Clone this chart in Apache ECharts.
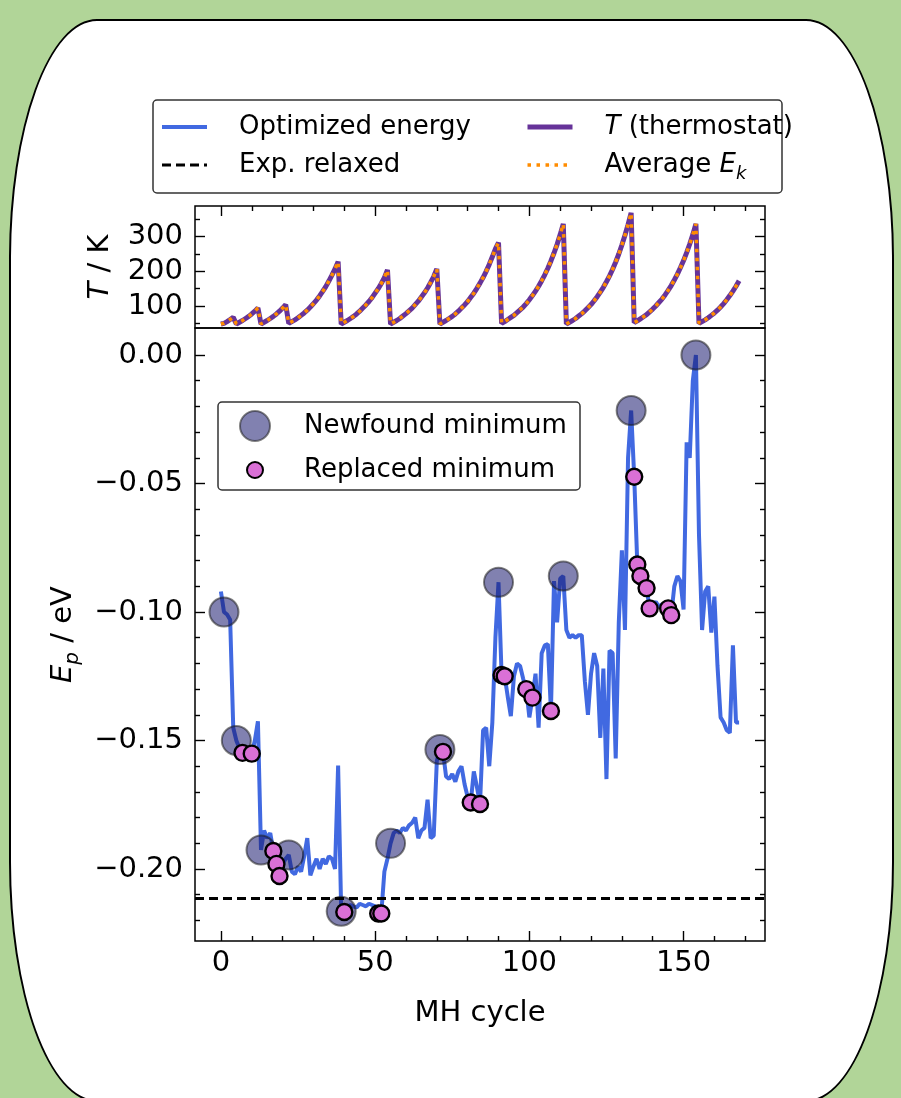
<!DOCTYPE html>
<html><head><meta charset="utf-8">
<script src="https://cdn.jsdelivr.net/npm/echarts@6/dist/echarts.min.js"></script>
<style>
html,body{margin:0;padding:0;background:#b1d598;width:901px;height:1098px;overflow:hidden;}
#card{position:absolute;left:9px;top:19px;width:885px;height:1083px;box-sizing:border-box;border:2px solid #000;border-radius:88px/240px;background:#fff;}
#chart{position:absolute;left:0;top:0;width:901px;height:1098px;}
</style></head><body>
<div id="card"></div><div id="chart"></div>
<script>
const FONT = 'DejaVu Sans';
// Optimized energy per MH cycle (eV), cycles 0..168
const energy = [
-0.092,-0.100,-0.101,-0.103,-0.145,-0.150,-0.153,-0.1548,-0.154,-0.153,
-0.1551,-0.150,-0.1425,-0.1926,-0.185,-0.188,-0.186,-0.193,-0.198,-0.2027,
-0.198,-0.196,-0.1945,-0.201,-0.202,-0.199,-0.201,-0.195,-0.188,-0.2025,
-0.199,-0.196,-0.200,-0.196,-0.198,-0.195,-0.196,-0.200,-0.1597,-0.2164,
-0.2167,-0.2145,-0.214,-0.2145,-0.215,-0.2135,-0.214,-0.2145,-0.2135,-0.214,
-0.2145,-0.2173,-0.2173,-0.201,-0.196,-0.190,-0.186,-0.185,-0.186,-0.184,
-0.185,-0.183,-0.182,-0.180,-0.188,-0.185,-0.184,-0.173,-0.188,-0.187,
-0.158,-0.1535,-0.1544,-0.164,-0.165,-0.163,-0.166,-0.162,-0.160,-0.167,
-0.172,-0.1741,-0.162,-0.168,-0.1747,-0.146,-0.145,-0.160,-0.143,-0.110,
-0.0884,-0.1245,-0.125,-0.133,-0.1405,-0.125,-0.120,-0.121,-0.126,-0.130,
-0.141,-0.1333,-0.124,-0.145,-0.116,-0.113,-0.1125,-0.1385,-0.088,-0.104,
-0.087,-0.086,-0.107,-0.110,-0.109,-0.110,-0.109,-0.109,-0.127,-0.140,
-0.124,-0.116,-0.121,-0.149,-0.122,-0.165,-0.115,-0.116,-0.157,-0.104,
-0.076,-0.107,-0.040,-0.0216,-0.0474,-0.0815,-0.086,-0.088,-0.0907,-0.0986,
-0.097,-0.096,-0.098,-0.097,-0.098,-0.0986,-0.1012,-0.090,-0.086,-0.088,
-0.099,-0.034,-0.040,-0.010,0.000,-0.070,-0.107,-0.092,-0.090,-0.108,
-0.094,-0.121,-0.141,-0.143,-0.146,-0.147,-0.113,-0.143,-0.143
];
// Thermostat temperature (K), cycles 0..168
const tempT = [
48,50,55,61,67,48,53,58,64,70,
77,85,94,48,53,58,64,70,77,85,
94,104,50,55,60,66,73,80,88,97,
107,117,129,142,156,172,189,207,228,48,
53,58,64,70,77,85,94,103,113,124,
137,150,165,182,204,48,53,58,64,71,
78,86,94,104,114,126,138,152,168,185,
207,48,53,58,64,70,77,85,94,103,
113,125,137,151,166,182,200,220,242,265,
283,50,55,61,67,73,81,89,97,107,
118,130,143,157,173,190,209,230,253,278,
306,337,48,53,58,64,71,78,86,95,
104,115,127,140,154,170,187,206,227,250,
276,304,335,369,52,57,63,69,75,83,
91,100,110,120,132,145,159,175,192,211,
231,254,279,306,337,50,55,60,66,73,
80,88,97,107,118,130,143,157,173
];
// Average kinetic energy (in K) overlaps the thermostat curve
const avgEk = tempT;
const expRelaxed = -0.2115;
const newfoundCycles = [1,5,13,22,39,55,71,90,111,133,154];
const replacedCycles = [7,10,17,18,19,40,51,52,72,81,84,91,92,99,101,107,134,135,136,138,139,145,146];
const xMajor = [0,50,100,150];
const xMinor = [10,20,30,40,60,70,80,90,110,120,130,140,160,170];
const eMajor = [-0.20,-0.15,-0.10,-0.05,0.00];
const eMinor = [-0.22,-0.21,-0.19,-0.18,-0.17,-0.16,-0.14,-0.13,-0.12,-0.11,-0.09,-0.08,-0.07,-0.06,-0.04,-0.03,-0.02,-0.01];
const tMajor = [100,200,300];
const tMinor = [50,150,250,350];

const X_MIN = -8.4, X_MAX = 176.4;
const E_MIN = -0.228, E_MAX = 0.0105;
const T_MIN = 36.5, T_MAX = 388.6;

const tickStyle = {color:'#000', width:1.4};
const labelFont = {fontFamily:FONT, fontSize:29, color:'#000'};

function xa(grid, pos, ticks, len, labels){
  return {type:'value', gridIndex:grid, position:pos, min:X_MIN, max:X_MAX,
    axisLine:{show:false, onZero:false}, splitLine:{show:false},
    axisTick:{show:true, inside:true, length:len, customValues:ticks, lineStyle:tickStyle},
    axisLabel: labels ? Object.assign({show:true, customValues:ticks, margin:8}, labelFont) : {show:false}};
}
function ya(grid, pos, min, max, ticks, len, labels, fmt){
  const a = {type:'value', gridIndex:grid, position:pos, min:min, max:max,
    axisLine:{show:false, onZero:false}, splitLine:{show:false},
    axisTick:{show:true, inside:true, length:len, customValues:ticks, lineStyle:tickStyle},
    axisLabel:{show:false}};
  if(labels){ a.axisLabel = Object.assign({show:true, customValues:ticks, margin:12, formatter:fmt}, labelFont); }
  return a;
}
const eFmt = v => (v < -1e-9 ? '\u2212' : '') + Math.abs(v).toFixed(2);
const tFmt = v => String(v);

const xAxis = [
  xa(0,'top',xMajor,10,false), xa(0,'top',xMinor,5,false),
  xa(1,'bottom',xMajor,10,true), xa(1,'bottom',xMinor,5,false)
];
xAxis[2].name = 'MH cycle';
xAxis[2].nameLocation = 'middle';
xAxis[2].nameGap = 58;
xAxis[2].nameTextStyle = {fontFamily:FONT, fontSize:29, color:'#000'};

const yAxis = [
  ya(0,'left',T_MIN,T_MAX,tMajor,10,true,tFmt), ya(0,'left',T_MIN,T_MAX,tMinor,5,false),
  ya(0,'right',T_MIN,T_MAX,tMajor,10,false), ya(0,'right',T_MIN,T_MAX,tMinor,5,false),
  ya(1,'left',E_MIN,E_MAX,eMajor,10,true,eFmt), ya(1,'left',E_MIN,E_MAX,eMinor,5,false),
  ya(1,'right',E_MIN,E_MAX,eMajor,10,false), ya(1,'right',E_MIN,E_MAX,eMinor,5,false)
];
yAxis[0].name = '{it|T} / K';
yAxis[0].nameLocation = 'middle';
yAxis[0].nameRotate = 90;
yAxis[0].nameGap = 80;
yAxis[0].nameTextStyle = {fontFamily:FONT, fontSize:29, color:'#000', rich:{it:{fontFamily:FONT, fontSize:29, fontStyle:'italic', color:'#000'}}};
yAxis[4].name = '{it|E}{sub|p} / eV';
yAxis[4].nameLocation = 'middle';
yAxis[4].nameRotate = 90;
yAxis[4].nameGap = 100;
yAxis[4].nameTextStyle = {fontFamily:FONT, fontSize:29, color:'#000', rich:{
  it:{fontFamily:FONT, fontSize:29, fontStyle:'italic', color:'#000'},
  sub:{fontFamily:FONT, fontSize:20, fontStyle:'italic', color:'#000', verticalAlign:'bottom', lineHeight:40}}};

const legendText = {fontFamily:FONT, fontSize:26, color:'#000', lineHeight:26, padding:[0,0,0,27],
  rich:{it:{fontFamily:FONT, fontSize:26, fontStyle:'italic', color:'#000', lineHeight:26},
        sub:{fontFamily:FONT, fontSize:18, fontStyle:'italic', color:'#000', verticalAlign:'bottom', lineHeight:36}}};
const legendFmt = function(name){
  if(name === 'T (thermostat)') return '{it|T} (thermostat)';
  if(name === 'Average Ek') return 'Average {it|E}{sub|k}';
  return name;
};
const legendLine = {width:'inherit', type:'inherit', color:'inherit', cap:'butt'};

const option = {
  animation:false,
  grid:[
    {left:195, top:206, width:570, height:122, show:true, borderColor:'#000', borderWidth:1.5, backgroundColor:'transparent'},
    {left:195, top:328, width:570, height:613, show:true, borderColor:'#000', borderWidth:1.5, backgroundColor:'transparent'}
  ],
  xAxis: xAxis,
  yAxis: yAxis,
  graphic:[
    {type:'rect', z:4, shape:{x:153, y:100, width:629, height:93, r:4}, style:{fill:'#fff', stroke:'#333', lineWidth:1.5}},
    {type:'rect', z:4, shape:{x:218, y:402, width:362, height:88, r:4}, style:{fill:'rgba(255,255,255,0.85)', stroke:'#333', lineWidth:1.5}}
  ],
  legend:[
    {data:['Optimized energy','Exp. relaxed'], orient:'vertical', left:160, top:114, itemWidth:45, itemHeight:1, itemGap:12,
     padding:0, selectedMode:false, z:6, textStyle:legendText, formatter:legendFmt, lineStyle:legendLine},
    {data:['T (thermostat)','Average Ek'], orient:'vertical', left:525, top:114, itemWidth:45, itemHeight:1, itemGap:7,
     padding:0, selectedMode:false, z:6, textStyle:legendText, formatter:legendFmt, lineStyle:legendLine},
    {data:['Newfound minimum'], left:239, top:410, itemWidth:30, itemHeight:30, padding:0, selectedMode:false, z:6,
     textStyle:Object.assign({}, legendText, {padding:[0,0,0,29]})},
    {data:['Replaced minimum'], left:246, top:457, itemWidth:16, itemHeight:16, padding:0, selectedMode:false, z:6,
     textStyle:Object.assign({}, legendText, {padding:[0,0,0,36]})}
  ],
  series:[
    {name:'Optimized energy', type:'line', xAxisIndex:2, yAxisIndex:4, symbol:'none', z:2,
     data: energy.map((v,i)=>[i,v]), lineStyle:{color:'#4169e1', width:4}, itemStyle:{color:'#4169e1'}},
    {name:'Exp. relaxed', type:'line', xAxisIndex:2, yAxisIndex:4, symbol:'none', z:2, data:[],
     lineStyle:{color:'#000', width:3, type:[9,5]}, itemStyle:{color:'#000'},
     markLine:{silent:true, symbol:'none', precision:5, label:{show:false}, lineStyle:{color:'#000', width:3, type:[9,5]}, data:[{yAxis:expRelaxed}]}},
    {name:'Newfound minimum', type:'scatter', xAxisIndex:2, yAxisIndex:4, symbol:'circle', symbolSize:29, z:3,
     data: newfoundCycles.map(c=>[c, energy[c]]),
     itemStyle:{color:'rgba(25,25,112,0.55)', borderColor:'rgba(30,30,30,0.55)', borderWidth:2, opacity:1}},
    {name:'Replaced minimum', type:'scatter', xAxisIndex:2, yAxisIndex:4, symbol:'circle', symbolSize:16, z:3.5,
     data: replacedCycles.map(c=>[c, energy[c]]),
     itemStyle:{color:'#da70d6', borderColor:'#000', borderWidth:2.4, opacity:1}},
    {name:'T (thermostat)', type:'line', xAxisIndex:0, yAxisIndex:0, symbol:'none', z:2,
     data: tempT.map((v,i)=>[i,v]), lineStyle:{color:'#663399', width:5}, itemStyle:{color:'#663399'}},
    {name:'Average Ek', type:'line', xAxisIndex:0, yAxisIndex:0, symbol:'none', z:2.5,
     data: avgEk.map((v,i)=>[i,v]), lineStyle:{color:'#ff8c00', width:3.5, type:[3.5,5.5], cap:'butt'}, itemStyle:{color:'#ff8c00'}}
  ]
};
const chart = echarts.init(document.getElementById('chart'), null, {renderer:'canvas'});
chart.setOption(option);
</script></body></html>
